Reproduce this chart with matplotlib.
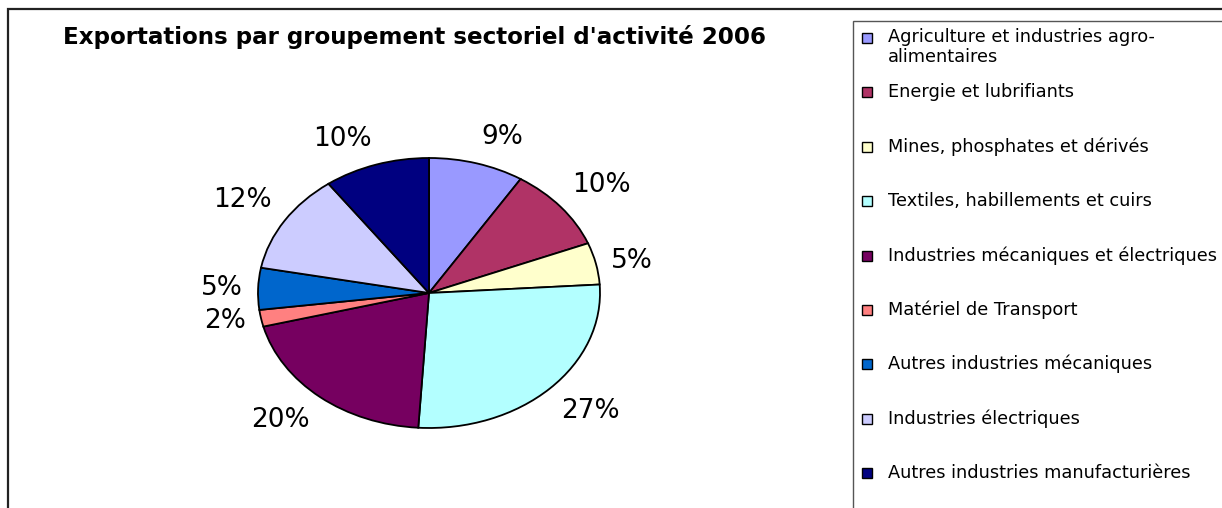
import numpy as np
import matplotlib
matplotlib.use("Agg")
import matplotlib.pyplot as plt
from matplotlib.patches import Rectangle

# shares of exports 2006 (%)
categories = ["Agriculture et industries agro-\nalimentaires",
              "Energie et lubrifiants",
              "Mines, phosphates et dérivés",
              "Textiles, habillements et cuirs",
              "Industries mécaniques et électriques",
              "Matériel de Transport",
              "Autres industries mécaniques",
              "Industries électriques",
              "Autres industries manufacturières"]
shares = [9, 10, 5, 27, 20, 2, 5, 12, 10]
colors = ["#9999FF", "#B03366", "#FFFFCC", "#B3FFFF", "#760060",
          "#FF8080", "#0066CC", "#CCCCFF", "#000080"]
title = "Exportations par groupement sectoriel d'activité 2006"

W, H = 1222, 508
fig = plt.figure(figsize=(W/100, H/100), dpi=100)
plt.rcParams['font.family'] = 'DejaVu Sans'

# outer frame and legend frame (they run off the picture)
fig.patches.append(Rectangle((8/W, -0.1), 1.2, 1.1 - 9/H, transform=fig.transFigure,
                             fill=False, edgecolor='#222222', linewidth=1.6))
fig.patches.append(Rectangle((853/W, -0.1), 1.0, 1.1 - 21/H, transform=fig.transFigure,
                             fill=False, edgecolor='#555555', linewidth=1.0))

fig.text(63/W, 1 - 37/H, title, fontsize=16.6, fontweight='bold', va='center', ha='left')

# pie axes: ellipse bbox
cx, cy, rx, ry = 429, 293, 171, 135
ax = fig.add_axes([(cx - rx)/W, 1 - (cy + ry)/H, 2*rx/W, 2*ry/H])
wedges, _ = ax.pie(shares, colors=colors, startangle=90, counterclock=False,
                   wedgeprops=dict(edgecolor='black', linewidth=1.3))
ax.set_aspect('auto')
ax.set_xlim(-1, 1)
ax.set_ylim(-1, 1)
ax.axis('off')

for w, v in zip(wedges, shares):
    mid = np.deg2rad((w.theta1 + w.theta2) / 2)
    c, s = np.cos(mid), np.sin(mid)
    x, y = 1.09*c, 1.10*s
    ha = 'left' if c > 0.15 else ('right' if c < -0.15 else 'center')
    va = 'bottom' if s > 0.3 else ('top' if s < -0.3 else 'center')
    ax.text(x, y, f"{v}%", fontsize=19, ha=ha, va=va, clip_on=False)

# legend
y0, step = 38, 54.4
for i, (lab, col) in enumerate(zip(categories, colors)):
    yy = y0 + i*step
    fig.patches.append(Rectangle((862/W, 1 - (yy + 5)/H), 10/W, 10/H,
                                 transform=fig.transFigure, facecolor=col,
                                 edgecolor='black', linewidth=1.0))
    fig.text(888/W, 1 - (yy - 9.5)/H, lab, fontsize=12.8, va='top', ha='left',
             linespacing=1.1)

fig.savefig("out.png", dpi=100)
